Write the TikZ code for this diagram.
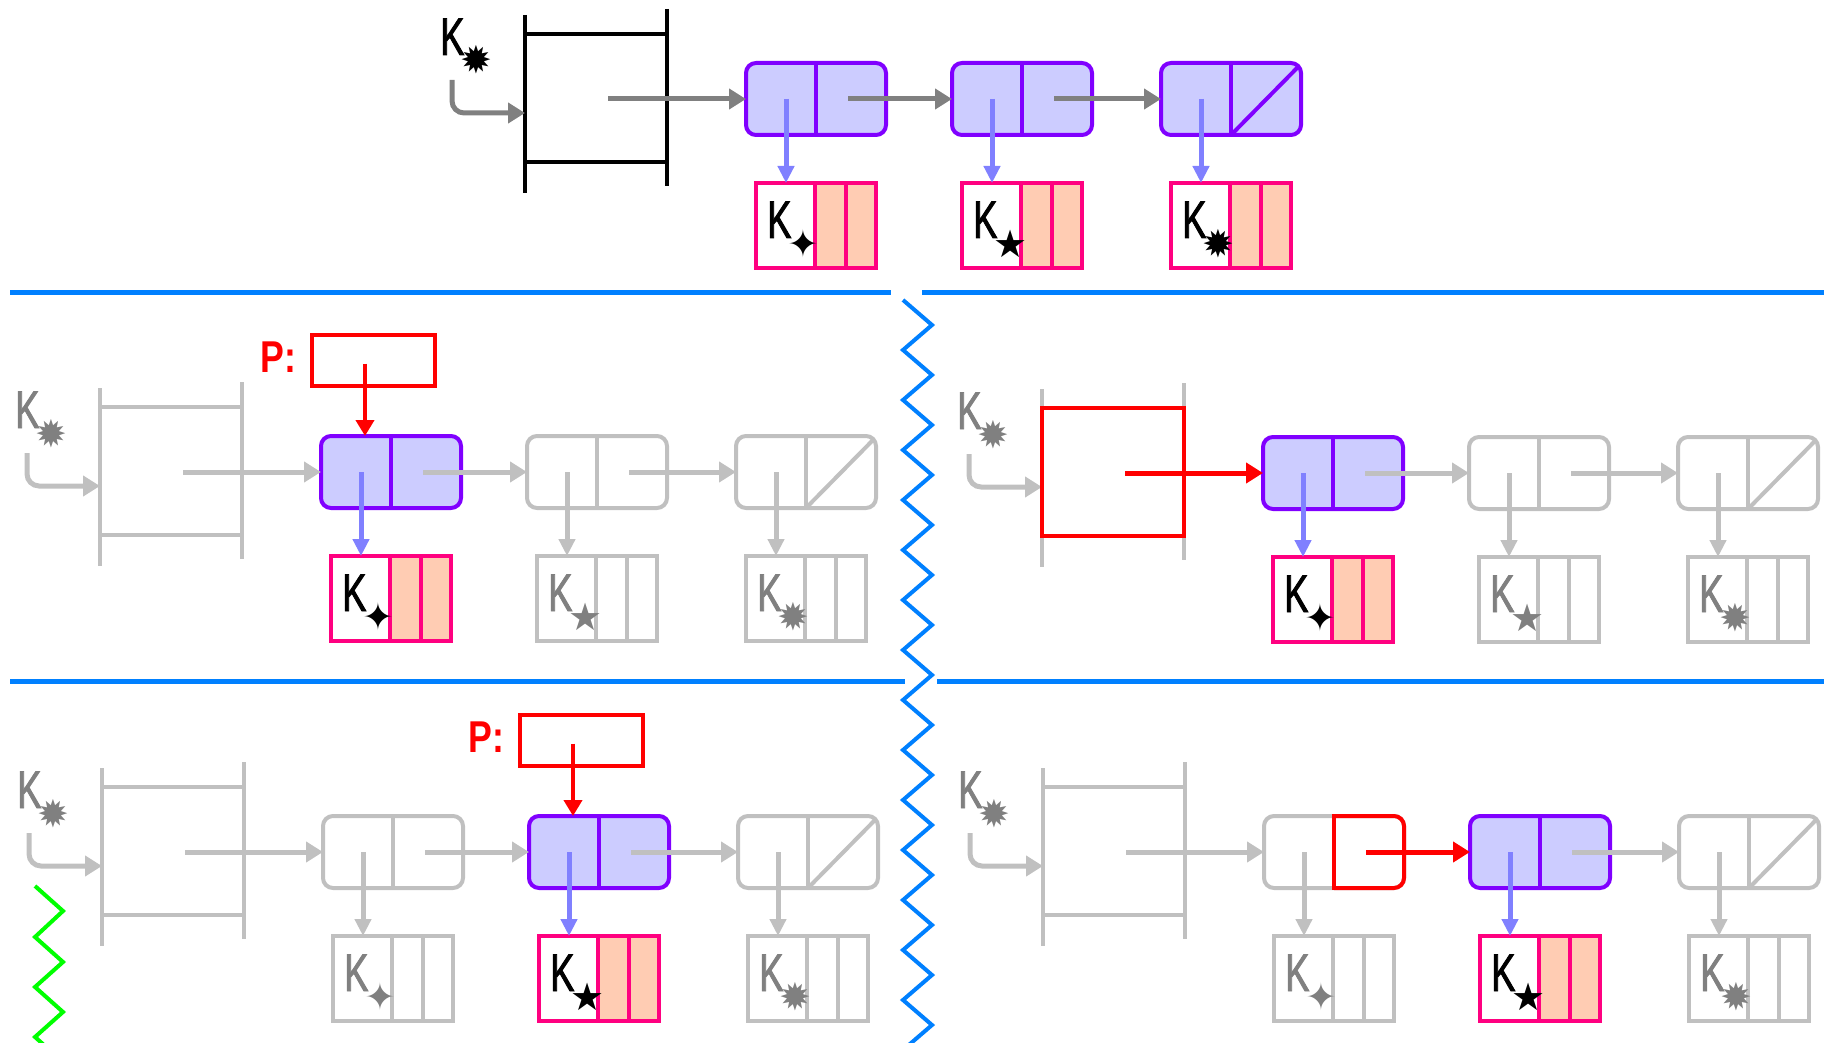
\documentclass[tikz,border=0pt]{standalone}
\usepackage{fontspec}
\usetikzlibrary{arrows.meta,calc}
\newfontfamily\kfont[FakeStretch=0.68,FakeBold=1.6]{Liberation Sans}
\newfontfamily\symfont{DejaVu Sans}
\newfontfamily\pfont[FakeStretch=0.8]{Liberation Sans}

\definecolor{npurple}{HTML}{8000FF}
\definecolor{nfill}{HTML}{CCCCFF}
\definecolor{barrow}{HTML}{8080FF}
\definecolor{rpink}{HTML}{FF0080}
\definecolor{peach}{HTML}{FFCCB3}
\definecolor{mgray}{HTML}{808080}
\definecolor{lgray}{HTML}{C0C0C0}
\definecolor{sepblue}{HTML}{0080FF}
\definecolor{zgreen}{HTML}{00FF00}

\tikzset{
  bar/.style={line width=1.8pt},
  arr/.style={line width=2.5pt,-{Triangle[length=8.5pt,width=10pt]}},
  darrhot/.style={draw=barrow,line width=2.5pt,-{Triangle[length=8.5pt,width=8pt]}},
  darrdim/.style={draw=lgray,line width=2.5pt,-{Triangle[length=8.5pt,width=8pt]}},
  parr/.style={draw=red,line width=2pt,-{Triangle[length=8pt,width=9pt]}},
  lnode/.style={rectangle,rounded corners=5pt,line width=2pt,minimum width=70pt,
    minimum height=36pt,inner sep=0pt,outer sep=0pt},
  lnodehot/.style={draw=npurple,fill=nfill},
  lnodedim/.style={draw=lgray,fill=white},
  linehot/.style={draw=npurple,line width=2pt},
  linedim/.style={draw=lgray,line width=2pt},
  lrec/.style={rectangle,minimum width=60pt,minimum height=42.5pt,inner sep=0pt,outer sep=0pt},
  rechot/.style={draw=rpink,line width=2pt},
  recdim/.style={draw=lgray,line width=2pt},
  cellhot/.style={fill=peach},
  celldim/.style={fill=white},
  khot/.style={text=black},
  kdim/.style={text=mgray},
  headbox/.style={rectangle,minimum width=71pt,minimum height=64pt,inner sep=0pt,outer sep=0pt},
  klabel/.style={inner sep=0pt,font=\kfont\fontsize{26.5}{26.5}\selectfont},
  pbox/.style={draw=red,line width=2pt,minimum width=61.5pt,minimum height=25.5pt,
    inner sep=0pt,outer sep=0pt},
  plabel/.style={inner sep=0pt,text=red,font=\pfont\bfseries\fontsize{22.3}{22.3}\selectfont},
  sepline/.style={draw=sepblue,line width=2.5pt},
  zigline/.style={draw=sepblue,line width=2pt},
  greenzig/.style={draw=zgreen,line width=2pt},
}

% subscript mark after a K
\newcommand\ksub[1]{\kern-2pt\raisebox{-9.5pt}{\symfont\fontsize{19}{19}\selectfont#1}}

% head block: bars, K label and the bent arrow into it
\newcommand\headblock[4]{%
  \node[headbox] (#1h) at (596,98) {};
  \draw[bar,#2] ($(#1h.north west)+(0,-19)$) -- ($(#1h.south west)+(0,31)$);
  \draw[bar,#2] ($(#1h.north east)+(0,-25)$) -- ($(#1h.south east)+(0,24)$);
  \draw[bar,#2] (#1h.north west) -- (#1h.north east);
  \draw[bar,#2] (#1h.south west) -- (#1h.south east);
  \node[klabel,#3,anchor=base west] (#1k) at (440,55) {K\ksub{✹}};
  \coordinate (#1kb) at (452,80);
  \draw[arr,#4,rounded corners=6pt] (#1kb) |- ($(#1h.west)+(0,15)$);
}

% list node with its divider
\newcommand\listnode[3]{%
  \node[lnode,lnode#3] (#1) at (#2,99) {};
  \draw[line#3] (#1.north) -- (#1.south);
}

% record with key cell and two data cells
\newcommand\record[4]{%
  \node[lrec] (#1) at (#2,225.5) {};
  \fill[cell#3] ($(#1.north west)+(59,0)$) rectangle (#1.south east);
  \draw[rec#3] ($(#1.north west)+(59,0)$) -- ($(#1.south west)+(59,0)$)
               ($(#1.north west)+(90,0)$) -- ($(#1.south west)+(90,0)$);
  \draw[rec#3] (#1.north west) rectangle (#1.south east);
  \node[klabel,k#3,anchor=base west] (#1k) at ($(#1.north west)+(11,55)$) {K\ksub{#4}};
}

% one complete list: prefix, bar colour, label kind, link colour,
% kinds of the three nodes, colour of first arrow, colour of n1->n2 arrow
\newcommand\panel[9]{%
  \headblock{#1}{#2}{k#3}{#4}
  \listnode{#1n1}{816}{#5}
  \listnode{#1n2}{1022}{#6}
  \listnode{#1n3}{1231}{#7}
  \draw[line#7] (#1n3.south) -- ($(#1n3.north east)+(-3,4)$);
  \record{#1r1}{816}{#5}{✦}
  \record{#1r2}{1022}{#6}{★}
  \record{#1r3}{1231}{#7}{✹}
  \draw[arr,#8] ($(#1h.center)+(12,1)$) -- (#1n1.west);
  \draw[arr,#9] ($(#1n1.center)+(32,0)$) -- (#1n2.west);
  \draw[arr,#4] ($(#1n2.center)+(32,0)$) -- (#1n3.west);
  \draw[darr#5] ($(#1n1.center)+(-30,0)$) -- ($(#1r1.north)+(-30,0)$);
  \draw[darr#6] ($(#1n2.center)+(-30,0)$) -- ($(#1r2.north)+(-30,0)$);
  \draw[darr#7] ($(#1n3.center)+(-30,0)$) -- ($(#1r3.north)+(-30,0)$);
}

% pointer variable P above a node
\newcommand\pointer[2]{%
  \node[pbox] (#1p) at ($(#2.north)+(-18,-75.5)$) {};
  \node[plabel,anchor=east] (#1pl) at ($(#1p.west)+(-15,-3)$) {P:};
  \draw[parr] ($(#1p.center)+(-8,3)$) -- ($(#2.north)+(-26,0)$);
}

\begin{document}
\begin{tikzpicture}[x=0.5pt,y=-0.5pt]
\useasboundingbox (0,0) rectangle (1831,1043);
\clip (0,0) rectangle (1831,1043);

% full list
\begin{scope}
  \panel{t}{black}{hot}{mgray}{hot}{hot}{hot}{mgray}{mgray}
\end{scope}

% separators
\draw[sepline] (10,293) -- (891,293);
\draw[sepline] (922,293) -- (1824,293);
\draw[sepline] (10,681) -- (905,681);
\draw[sepline] (937,681) -- (1824,681);
\draw[zigline] (903,300) \foreach \k in {0,...,15} { -- (932,{325+50*\k}) -- (903,{350+50*\k}) };
\draw[greenzig] (35,886) -- (63,911) -- (35,937) -- (63,962) -- (35,987) -- (63,1012) -- (35,1037) -- (63,1062);

% P on the first element
\begin{scope}[shift={(-425,373)}]
  \panel{a}{lgray}{dim}{lgray}{hot}{dim}{dim}{lgray}{lgray}
  \pointer{a}{an1}
\end{scope}

% head pointing at the first element
\begin{scope}[shift={(517,374)}]
  \panel{b}{lgray}{dim}{lgray}{hot}{dim}{dim}{red}{lgray}
  \draw[red,line width=2pt] (bh.north west) rectangle (bh.south east);
\end{scope}

% P on the second element
\begin{scope}[shift={(-423,753)}]
  \panel{c}{lgray}{dim}{lgray}{dim}{hot}{dim}{lgray}{lgray}
  \pointer{c}{cn2}
\end{scope}

% link field of the first element pointing at the second
\begin{scope}[shift={(518,753)}]
  \panel{d}{lgray}{dim}{lgray}{dim}{hot}{dim}{lgray}{red}
  \draw[red,line width=2pt,line cap=rect] (dn1.north) -- (dn1.south);
  \draw[red,line width=2pt,rounded corners=5pt] (dn1.north) -- (dn1.north east)
    -- (dn1.south east) -- (dn1.south);
\end{scope}
\end{tikzpicture}
\end{document}
